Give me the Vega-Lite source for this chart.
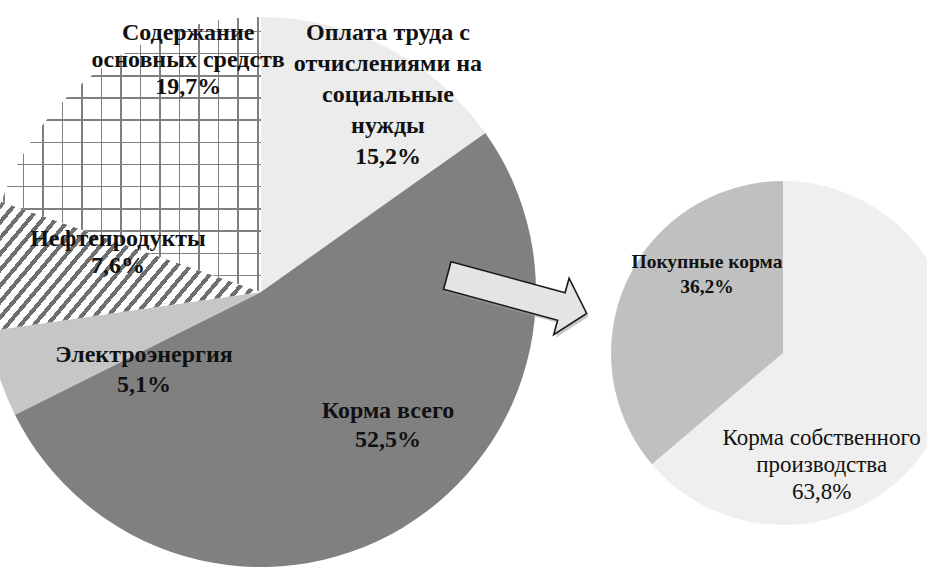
{
  "$schema": "https://vega.github.io/schema/vega-lite/v6.json",
  "width": 927,
  "height": 576,
  "autosize": {"type": "none"},
  "padding": 0,
  "background": "#ffffff",
  "config": {"view": {"stroke": null}, "text": {"font": "Liberation Serif, serif"}},
  "encoding": {
    "x": {"field": "pie", "type": "nominal", "axis": null, "scale": {"type": "point", "domain": ["big", "arrow", "small"], "range": [261, 783], "padding": 0}},
    "y": {"field": "pie", "type": "nominal", "axis": null, "scale": {"type": "point", "domain": ["big", "arrow", "small"], "range": [292, 353], "padding": 0}}
  },
  "layer": [
    {
      "data": {"values": [
        {"pie": "big", "order": 1, "name": "Оплата труда с отчислениями на социальные нужды", "value": 15.2, "label": "Оплата труда с\nотчислениями на\nсоциальные\nнужды\n15,2%"},
        {"pie": "big", "order": 2, "name": "Корма всего", "value": 52.5, "label": "Корма всего\n52,5%"},
        {"pie": "big", "order": 3, "name": "Электроэнергия", "value": 5.1, "label": "Электроэнергия\n5,1%"},
        {"pie": "big", "order": 4, "name": "Нефтепродукты", "value": 7.6, "label": "Нефтепродукты\n7,6%"},
        {"pie": "big", "order": 5, "name": "Содержание основных средств", "value": 19.7, "label": "Содержание\nосновных средств\n19,7%"}
      ]},
      "encoding": {
        "theta": {"field": "value", "type": "quantitative", "stack": true},
        "order": {"field": "order", "type": "quantitative"},
        "detail": {"field": "name", "type": "nominal"}
      },
      "layer": [
        {
          "mark": {"type": "arc", "outerRadius": 275},
          "encoding": {
            "fill": {
              "condition": [
                {"test": "datum.name === 'Корма всего'", "value": "#808080"},
                {"test": "datum.name === 'Электроэнергия'", "value": "#c6c6c6"},
                {"test": "datum.name === 'Нефтепродукты'", "value": {"gradient": "linear", "x1": 0, "y1": 0, "x2": 1.2, "y2": 0.4736, "stops": [
                  {"offset": 0, "color": "#ffffff"},
                  {"offset": 0.005, "color": "#ffffff"}, {"offset": 0.005, "color": "#6f6f6f"}, {"offset": 0.019, "color": "#6f6f6f"}, {"offset": 0.019, "color": "#ffffff"},
                  {"offset": 0.040, "color": "#ffffff"}, {"offset": 0.040, "color": "#6f6f6f"}, {"offset": 0.054, "color": "#6f6f6f"}, {"offset": 0.054, "color": "#ffffff"},
                  {"offset": 0.075, "color": "#ffffff"}, {"offset": 0.075, "color": "#6f6f6f"}, {"offset": 0.089, "color": "#6f6f6f"}, {"offset": 0.089, "color": "#ffffff"},
                  {"offset": 0.110, "color": "#ffffff"}, {"offset": 0.110, "color": "#6f6f6f"}, {"offset": 0.124, "color": "#6f6f6f"}, {"offset": 0.124, "color": "#ffffff"},
                  {"offset": 0.145, "color": "#ffffff"}, {"offset": 0.145, "color": "#6f6f6f"}, {"offset": 0.159, "color": "#6f6f6f"}, {"offset": 0.159, "color": "#ffffff"},
                  {"offset": 0.180, "color": "#ffffff"}, {"offset": 0.180, "color": "#6f6f6f"}, {"offset": 0.194, "color": "#6f6f6f"}, {"offset": 0.194, "color": "#ffffff"},
                  {"offset": 0.215, "color": "#ffffff"}, {"offset": 0.215, "color": "#6f6f6f"}, {"offset": 0.229, "color": "#6f6f6f"}, {"offset": 0.229, "color": "#ffffff"},
                  {"offset": 0.250, "color": "#ffffff"}, {"offset": 0.250, "color": "#6f6f6f"}, {"offset": 0.264, "color": "#6f6f6f"}, {"offset": 0.264, "color": "#ffffff"},
                  {"offset": 0.285, "color": "#ffffff"}, {"offset": 0.285, "color": "#6f6f6f"}, {"offset": 0.299, "color": "#6f6f6f"}, {"offset": 0.299, "color": "#ffffff"},
                  {"offset": 0.320, "color": "#ffffff"}, {"offset": 0.320, "color": "#6f6f6f"}, {"offset": 0.334, "color": "#6f6f6f"}, {"offset": 0.334, "color": "#ffffff"},
                  {"offset": 0.355, "color": "#ffffff"}, {"offset": 0.355, "color": "#6f6f6f"}, {"offset": 0.369, "color": "#6f6f6f"}, {"offset": 0.369, "color": "#ffffff"},
                  {"offset": 0.390, "color": "#ffffff"}, {"offset": 0.390, "color": "#6f6f6f"}, {"offset": 0.404, "color": "#6f6f6f"}, {"offset": 0.404, "color": "#ffffff"},
                  {"offset": 0.425, "color": "#ffffff"}, {"offset": 0.425, "color": "#6f6f6f"}, {"offset": 0.439, "color": "#6f6f6f"}, {"offset": 0.439, "color": "#ffffff"},
                  {"offset": 0.460, "color": "#ffffff"}, {"offset": 0.460, "color": "#6f6f6f"}, {"offset": 0.474, "color": "#6f6f6f"}, {"offset": 0.474, "color": "#ffffff"},
                  {"offset": 0.495, "color": "#ffffff"}, {"offset": 0.495, "color": "#6f6f6f"}, {"offset": 0.509, "color": "#6f6f6f"}, {"offset": 0.509, "color": "#ffffff"},
                  {"offset": 0.530, "color": "#ffffff"}, {"offset": 0.530, "color": "#6f6f6f"}, {"offset": 0.544, "color": "#6f6f6f"}, {"offset": 0.544, "color": "#ffffff"},
                  {"offset": 0.565, "color": "#ffffff"}, {"offset": 0.565, "color": "#6f6f6f"}, {"offset": 0.579, "color": "#6f6f6f"}, {"offset": 0.579, "color": "#ffffff"},
                  {"offset": 0.600, "color": "#ffffff"}, {"offset": 0.600, "color": "#6f6f6f"}, {"offset": 0.614, "color": "#6f6f6f"}, {"offset": 0.614, "color": "#ffffff"},
                  {"offset": 0.635, "color": "#ffffff"}, {"offset": 0.635, "color": "#6f6f6f"}, {"offset": 0.649, "color": "#6f6f6f"}, {"offset": 0.649, "color": "#ffffff"},
                  {"offset": 0.670, "color": "#ffffff"}, {"offset": 0.670, "color": "#6f6f6f"}, {"offset": 0.684, "color": "#6f6f6f"}, {"offset": 0.684, "color": "#ffffff"},
                  {"offset": 0.705, "color": "#ffffff"}, {"offset": 0.705, "color": "#6f6f6f"}, {"offset": 0.719, "color": "#6f6f6f"}, {"offset": 0.719, "color": "#ffffff"},
                  {"offset": 0.740, "color": "#ffffff"}, {"offset": 0.740, "color": "#6f6f6f"}, {"offset": 0.754, "color": "#6f6f6f"}, {"offset": 0.754, "color": "#ffffff"},
                  {"offset": 0.775, "color": "#ffffff"}, {"offset": 0.775, "color": "#6f6f6f"}, {"offset": 0.789, "color": "#6f6f6f"}, {"offset": 0.789, "color": "#ffffff"},
                  {"offset": 0.810, "color": "#ffffff"}, {"offset": 0.810, "color": "#6f6f6f"}, {"offset": 0.824, "color": "#6f6f6f"}, {"offset": 0.824, "color": "#ffffff"},
                  {"offset": 0.845, "color": "#ffffff"}, {"offset": 0.845, "color": "#6f6f6f"}, {"offset": 0.859, "color": "#6f6f6f"}, {"offset": 0.859, "color": "#ffffff"},
                  {"offset": 0.880, "color": "#ffffff"}, {"offset": 0.880, "color": "#6f6f6f"}, {"offset": 0.894, "color": "#6f6f6f"}, {"offset": 0.894, "color": "#ffffff"},
                  {"offset": 0.915, "color": "#ffffff"}, {"offset": 0.915, "color": "#6f6f6f"}, {"offset": 0.929, "color": "#6f6f6f"}, {"offset": 0.929, "color": "#ffffff"},
                  {"offset": 0.950, "color": "#ffffff"}, {"offset": 0.950, "color": "#6f6f6f"}, {"offset": 0.964, "color": "#6f6f6f"}, {"offset": 0.964, "color": "#ffffff"},
                  {"offset": 0.985, "color": "#ffffff"}, {"offset": 0.985, "color": "#6f6f6f"}, {"offset": 0.999, "color": "#6f6f6f"}, {"offset": 0.999, "color": "#ffffff"},
                  {"offset": 1, "color": "#ffffff"}
                ]}},
                {"test": "datum.name === 'Содержание основных средств'", "value": {"gradient": "linear", "x1": 0, "y1": 0, "x2": 0, "y2": 1, "stops": [
                  {"offset": 0, "color": "#ffffff"},
                  {"offset": 0.0495, "color": "#ffffff"}, {"offset": 0.0495, "color": "#808080"}, {"offset": 0.0550, "color": "#808080"}, {"offset": 0.0550, "color": "#ffffff"},
                  {"offset": 0.1302, "color": "#ffffff"}, {"offset": 0.1302, "color": "#808080"}, {"offset": 0.1357, "color": "#808080"}, {"offset": 0.1357, "color": "#ffffff"},
                  {"offset": 0.2109, "color": "#ffffff"}, {"offset": 0.2109, "color": "#808080"}, {"offset": 0.2164, "color": "#808080"}, {"offset": 0.2164, "color": "#ffffff"},
                  {"offset": 0.2916, "color": "#ffffff"}, {"offset": 0.2916, "color": "#808080"}, {"offset": 0.2971, "color": "#808080"}, {"offset": 0.2971, "color": "#ffffff"},
                  {"offset": 0.3724, "color": "#ffffff"}, {"offset": 0.3724, "color": "#808080"}, {"offset": 0.3779, "color": "#808080"}, {"offset": 0.3779, "color": "#ffffff"},
                  {"offset": 0.4531, "color": "#ffffff"}, {"offset": 0.4531, "color": "#808080"}, {"offset": 0.4586, "color": "#808080"}, {"offset": 0.4586, "color": "#ffffff"},
                  {"offset": 0.5338, "color": "#ffffff"}, {"offset": 0.5338, "color": "#808080"}, {"offset": 0.5393, "color": "#808080"}, {"offset": 0.5393, "color": "#ffffff"},
                  {"offset": 0.6145, "color": "#ffffff"}, {"offset": 0.6145, "color": "#808080"}, {"offset": 0.6200, "color": "#808080"}, {"offset": 0.6200, "color": "#ffffff"},
                  {"offset": 0.6953, "color": "#ffffff"}, {"offset": 0.6953, "color": "#808080"}, {"offset": 0.7008, "color": "#808080"}, {"offset": 0.7008, "color": "#ffffff"},
                  {"offset": 0.7760, "color": "#ffffff"}, {"offset": 0.7760, "color": "#808080"}, {"offset": 0.7815, "color": "#808080"}, {"offset": 0.7815, "color": "#ffffff"},
                  {"offset": 0.8567, "color": "#ffffff"}, {"offset": 0.8567, "color": "#808080"}, {"offset": 0.8622, "color": "#808080"}, {"offset": 0.8622, "color": "#ffffff"},
                  {"offset": 0.9375, "color": "#ffffff"}, {"offset": 0.9375, "color": "#808080"}, {"offset": 0.9430, "color": "#808080"}, {"offset": 0.9430, "color": "#ffffff"},
                  {"offset": 1, "color": "#ffffff"}
                ]}}
              ],
              "value": "#ececec"
            }
          }
        },
        {
          "mark": {"type": "arc", "outerRadius": 275},
          "encoding": {
            "fill": {
              "condition": {"test": "datum.name === 'Содержание основных средств'", "value": {"gradient": "linear", "x1": 0, "y1": 0, "x2": 1, "y2": 0, "stops": [
                {"offset": 0, "color": "rgba(255,255,255,0)"},
                {"offset": 0.0085, "color": "rgba(255,255,255,0)"}, {"offset": 0.0085, "color": "#808080"}, {"offset": 0.0143, "color": "#808080"}, {"offset": 0.0143, "color": "rgba(255,255,255,0)"},
                {"offset": 0.0836, "color": "rgba(255,255,255,0)"}, {"offset": 0.0836, "color": "#808080"}, {"offset": 0.0894, "color": "#808080"}, {"offset": 0.0894, "color": "rgba(255,255,255,0)"},
                {"offset": 0.1586, "color": "rgba(255,255,255,0)"}, {"offset": 0.1586, "color": "#808080"}, {"offset": 0.1644, "color": "#808080"}, {"offset": 0.1644, "color": "rgba(255,255,255,0)"},
                {"offset": 0.2337, "color": "rgba(255,255,255,0)"}, {"offset": 0.2337, "color": "#808080"}, {"offset": 0.2395, "color": "#808080"}, {"offset": 0.2395, "color": "rgba(255,255,255,0)"},
                {"offset": 0.3088, "color": "rgba(255,255,255,0)"}, {"offset": 0.3088, "color": "#808080"}, {"offset": 0.3146, "color": "#808080"}, {"offset": 0.3146, "color": "rgba(255,255,255,0)"},
                {"offset": 0.3839, "color": "rgba(255,255,255,0)"}, {"offset": 0.3839, "color": "#808080"}, {"offset": 0.3897, "color": "#808080"}, {"offset": 0.3897, "color": "rgba(255,255,255,0)"},
                {"offset": 0.4590, "color": "rgba(255,255,255,0)"}, {"offset": 0.4590, "color": "#808080"}, {"offset": 0.4648, "color": "#808080"}, {"offset": 0.4648, "color": "rgba(255,255,255,0)"},
                {"offset": 0.5341, "color": "rgba(255,255,255,0)"}, {"offset": 0.5341, "color": "#808080"}, {"offset": 0.5399, "color": "#808080"}, {"offset": 0.5399, "color": "rgba(255,255,255,0)"},
                {"offset": 0.6092, "color": "rgba(255,255,255,0)"}, {"offset": 0.6092, "color": "#808080"}, {"offset": 0.6150, "color": "#808080"}, {"offset": 0.6150, "color": "rgba(255,255,255,0)"},
                {"offset": 0.6843, "color": "rgba(255,255,255,0)"}, {"offset": 0.6843, "color": "#808080"}, {"offset": 0.6901, "color": "#808080"}, {"offset": 0.6901, "color": "rgba(255,255,255,0)"},
                {"offset": 0.7593, "color": "rgba(255,255,255,0)"}, {"offset": 0.7593, "color": "#808080"}, {"offset": 0.7651, "color": "#808080"}, {"offset": 0.7651, "color": "rgba(255,255,255,0)"},
                {"offset": 0.8344, "color": "rgba(255,255,255,0)"}, {"offset": 0.8344, "color": "#808080"}, {"offset": 0.8402, "color": "#808080"}, {"offset": 0.8402, "color": "rgba(255,255,255,0)"},
                {"offset": 0.9095, "color": "rgba(255,255,255,0)"}, {"offset": 0.9095, "color": "#808080"}, {"offset": 0.9153, "color": "#808080"}, {"offset": 0.9153, "color": "rgba(255,255,255,0)"},
                {"offset": 0.9846, "color": "rgba(255,255,255,0)"}, {"offset": 0.9846, "color": "#808080"}, {"offset": 0.9904, "color": "#808080"}, {"offset": 0.9904, "color": "rgba(255,255,255,0)"},
                {"offset": 1, "color": "rgba(255,255,255,0)"}
              ]}},
              "value": "rgba(0,0,0,0)"
            }
          }
        },
        {
          "mark": {"type": "text", "radius": 234, "dx": 19.5, "dy": -51.1, "fontSize": 24, "fontWeight": "bold", "lineBreak": "\n", "lineHeight": 31, "align": "center", "baseline": "middle", "color": "#111111"},
          "encoding": {"text": {"condition": {"test": "datum.name === 'Оплата труда с отчислениями на социальные нужды'", "field": "label", "type": "nominal"}, "value": ""}}
        },
        {
          "mark": {"type": "text", "radius": 185, "dx": 31.9, "dy": -39.2, "fontSize": 24, "fontWeight": "bold", "lineBreak": "\n", "lineHeight": 29, "align": "center", "baseline": "middle", "color": "#111111"},
          "encoding": {"text": {"condition": {"test": "datum.name === 'Корма всего'", "field": "label", "type": "nominal"}, "value": ""}}
        },
        {
          "mark": {"type": "text", "radius": 141, "dx": 17.6, "dy": 21, "fontSize": 24, "fontWeight": "bold", "lineBreak": "\n", "lineHeight": 30, "align": "center", "baseline": "middle", "color": "#111111"},
          "encoding": {"text": {"condition": {"test": "datum.name === 'Электроэнергия'", "field": "label", "type": "nominal"}, "value": ""}}
        },
        {
          "mark": {"type": "text", "radius": 148, "dx": 4.3, "dy": -38.4, "fontSize": 24, "fontWeight": "bold", "lineBreak": "\n", "lineHeight": 27, "align": "center", "baseline": "middle", "color": "#111111"},
          "encoding": {"text": {"condition": {"test": "datum.name === 'Нефтепродукты'", "field": "label", "type": "nominal"}, "value": ""}}
        },
        {
          "mark": {"type": "text", "radius": 243, "dx": 68, "dy": -61, "fontSize": 24, "fontWeight": "bold", "lineBreak": "\n", "lineHeight": 27, "align": "center", "baseline": "middle", "color": "#111111"},
          "encoding": {"text": {"condition": {"test": "datum.name === 'Содержание основных средств'", "field": "label", "type": "nominal"}, "value": ""}}
        }
      ]
    },
    {
      "data": {"values": [{"pie": "arrow"}]},
      "layer": [
        {"mark": {"type": "point", "shape": "M-1.131,-0.521L0.506,-0.521L0.506,-0.730L0.869,-0.324L0.506,0.082L0.506,-0.127L-1.131,-0.127Z", "size": 20851, "angle": 15.2, "filled": true, "fill": "#9a9a9a", "strokeWidth": 0, "opacity": 0.55}},
        {"mark": {"type": "point", "shape": "M-1.169,-0.554L0.468,-0.554L0.468,-0.763L0.831,-0.357L0.468,0.049L0.468,-0.16L-1.169,-0.16Z", "size": 20851, "angle": 15.2, "filled": true, "fill": "#e4e4e4", "stroke": "#1a1a1a", "strokeWidth": 1.6, "opacity": 1}}
      ]
    },
    {
      "data": {"values": [
        {"pie": "small", "order": 1, "name": "Корма собственного производства", "value": 63.8, "label": "Корма собственного\nпроизводства\n63,8%"},
        {"pie": "small", "order": 2, "name": "Покупные корма", "value": 36.2, "label": "Покупные корма\n36,2%"}
      ]},
      "encoding": {
        "theta": {"field": "value", "type": "quantitative", "stack": true},
        "order": {"field": "order", "type": "quantitative"},
        "detail": {"field": "name", "type": "nominal"}
      },
      "layer": [
        {
          "mark": {"type": "arc", "outerRadius": 172},
          "encoding": {
            "fill": {
              "condition": {"test": "datum.name === 'Покупные корма'", "value": "#c0c0c0"},
              "value": "#efefef"
            }
          }
        },
        {
          "mark": {"type": "text", "radius": 109, "dx": 22.9, "dy": -44.8, "fontSize": 19.5, "fontWeight": "bold", "lineBreak": "\n", "lineHeight": 25, "align": "center", "baseline": "middle", "color": "#111111"},
          "encoding": {"text": {"condition": {"test": "datum.name === 'Покупные корма'", "field": "label", "type": "nominal"}, "value": ""}}
        },
        {
          "mark": {"type": "text", "radius": 118.6, "dx": -69, "dy": 35.2, "fontSize": 23, "fontWeight": "normal", "lineBreak": "\n", "lineHeight": 27, "align": "center", "baseline": "middle", "color": "#111111"},
          "encoding": {"text": {"condition": {"test": "datum.name === 'Корма собственного производства'", "field": "label", "type": "nominal"}, "value": ""}}
        }
      ]
    }
  ],
  "resolve": {"scale": {"theta": "independent"}}
}
